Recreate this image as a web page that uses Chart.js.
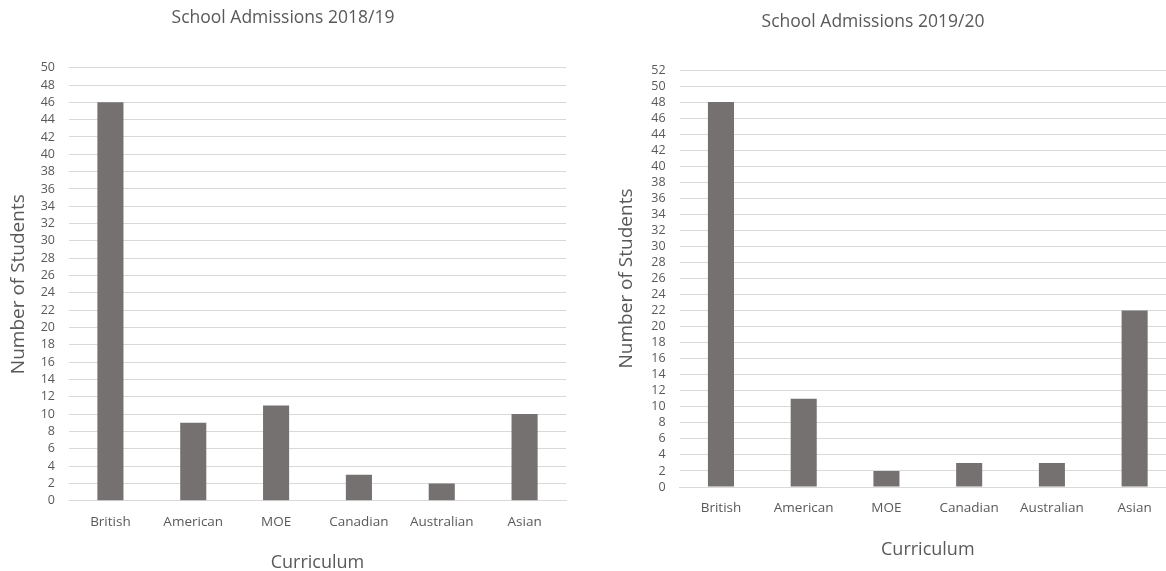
<!DOCTYPE html>
<html>
<head>
<meta charset="utf-8">
<script src="https://cdn.jsdelivr.net/npm/chart.js@4.4.1/dist/chart.umd.min.js"></script>
<style>
  html, body { margin: 0; padding: 0; background: #ffffff; overflow: hidden; }
  body { width: 1166px; height: 571px; position: relative; }
  .box { position: absolute; top: 0; }
  #wrapA { left: 0; width: 580px; height: 590px; }
  #wrapB { left: 570px; width: 620px; height: 590px; }
</style>
</head>
<body>
<div class="box" id="wrapA"><canvas id="chartA" width="580" height="590"></canvas></div>
<div class="box" id="wrapB"><canvas id="chartB" width="620" height="590"></canvas></div>
<script>
// Curricula shown on the horizontal axis of both charts
const curricula = ['British', 'American', 'MOE', 'Canadian', 'Australian', 'Asian'];

// Students admitted per curriculum
const admissions2018 = [46, 9, 11, 3, 2, 10];
const admissions2019 = [48, 11, 2, 3, 3, 22];

// Value-axis ranges (ticks every 2 students)
const axis2018 = { min: 0, max: 50, step: 2 };
const axis2019 = { min: 0, max: 52, step: 2 };

const FONT = "'Open Sans', 'Noto Sans', sans-serif";
const TEXT = '#595959';
const GRID = '#d9d9d9';
const BAR = '#767171';

function makeChart(canvasId, title, values, axis, L) {
  return new Chart(document.getElementById(canvasId), {
    type: 'bar',
    data: {
      labels: curricula,
      datasets: [{
        label: title,
        data: values,
        backgroundColor: BAR,
        borderWidth: 0,
        barPercentage: 0.315,
        categoryPercentage: 1.0
      }]
    },
    options: {
      responsive: false,
      animation: false,
      layout: { padding: { left: 0, right: L.padRight, top: 0, bottom: 0 } },
      plugins: {
        legend: { display: false },
        tooltip: { enabled: false },
        title: {
          display: true,
          text: title,
          color: TEXT,
          font: { family: FONT, size: 17.5, weight: 'normal', lineHeight: 1.2 },
          padding: { top: L.titleTop, bottom: L.titleBottom }
        }
      },
      scales: {
        x: {
          grid: { display: false, drawTicks: false },
          border: { display: true, color: GRID, width: 1 },
          ticks: { color: TEXT, font: { family: FONT, size: 13.5 }, padding: 13, maxRotation: 0, autoSkip: false },
          title: {
            display: true,
            text: 'Curriculum',
            color: TEXT,
            font: { family: FONT, size: 18, lineHeight: 1.2 },
            padding: { top: 0, bottom: L.xTitleBottom }
          },
          afterFit: s => { s.height = L.xHeight; }
        },
        y: {
          min: axis.min,
          max: axis.max,
          grid: { color: GRID, lineWidth: 1, drawTicks: false },
          border: { display: false },
          ticks: { stepSize: axis.step, autoSkip: false, color: TEXT, font: { family: FONT, size: 12.5 }, padding: 14 },
          title: {
            display: true,
            text: 'Number of Students',
            color: TEXT,
            font: { family: FONT, size: 19, lineHeight: 1.2 },
            padding: { top: L.yTitleTop, bottom: 0 }
          },
          afterFit: s => { s.width = L.yWidth; }
        }
      }
    }
  });
}

makeChart('chartA', 'School Admissions 2018/19', admissions2018, axis2018, {
  padRight: 14, titleTop: 7.5, titleBottom: 39.2, xHeight: 89.3, xTitleBottom: 16.2,
  yWidth: 69, yTitleTop: 7.6
});

makeChart('chartB', 'School Admissions 2019/20', admissions2019, axis2019, {
  padRight: 14, titleTop: 11.5, titleBottom: 37.5, xHeight: 103, xTitleBottom: 29.2,
  yWidth: 109.6, yTitleTop: 45.6
});
</script>
</body>
</html>
